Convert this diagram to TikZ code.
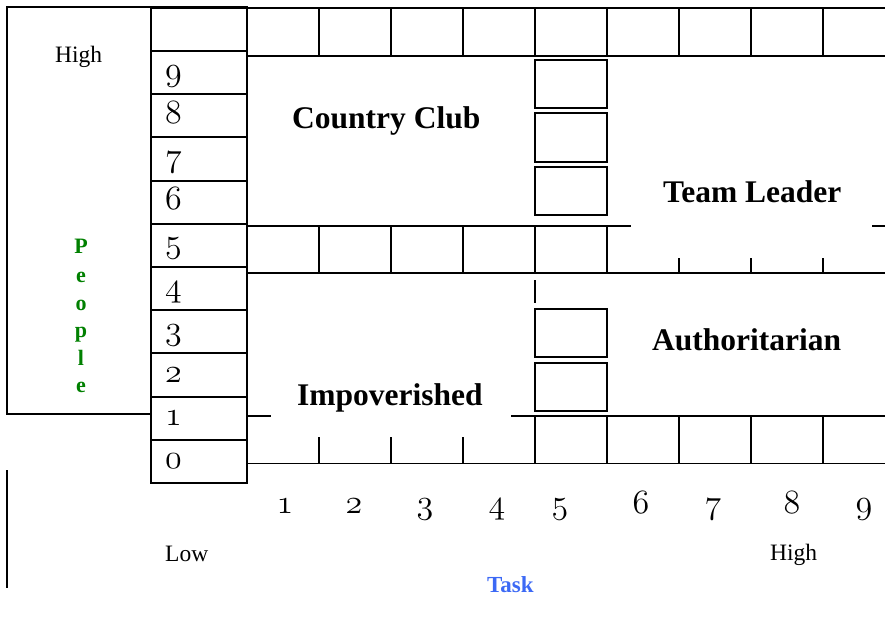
\documentclass[tikz,border=0pt]{standalone}
\usepackage{fix-cm}
\usepackage{fontspec}
\setmainfont{Liberation Serif}
\definecolor{pgreen}{RGB}{0,128,0}
\definecolor{tblue}{RGB}{60,105,245}
\tikzset{
  gline/.style={line width=1.7pt, black},
  colbox/.style={line width=2.1pt, black},
  smallbox/.style={line width=2.3pt, black},
  digit/.style={inner sep=0pt, font=\fontsize{34}{34}\usefont{OML}{cmm}{m}{it}},
  lbl/.style={inner sep=0pt, font=\fontsize{23.5}{26}\selectfont},
  zone/.style={inner sep=0pt, font=\fontsize{31.5}{34}\selectfont\bfseries},
  pl/.style={inner sep=0pt, anchor=base, text=pgreen, font=\fontsize{22}{24}\selectfont\bfseries}
}
\begin{document}
\begin{tikzpicture}[x=1pt,y=-1pt]
\useasboundingbox (0,0) rectangle (885,626);
% left big rectangle
\draw[gline] (151,414) -- (7,414) -- (7,7) -- (151,7);
% column: top empty cell and digit cells
\draw[colbox] (151,7.5) rectangle (247,51);
\foreach \i in {0,...,9}{
  \pgfmathsetmacro{\yt}{51+(9-\i)*43.2}
  \draw[colbox] (151,\yt) rectangle (247,\yt+43.2);
  \node[digit, anchor=base west] (c\i) at (165,\yt+29) {\i};
}
% top row
\draw[gline] (247,8) -- (885,8);
\draw[gline] (247,56) -- (885,56);
\foreach \x in {319,391,463,535,607,679,751,823}{
  \draw[gline] (\x,8) -- (\x,56);
}
% middle row
\draw[gline] (247,226) -- (631,226);
\draw[gline] (872,226) -- (885,226);
\draw[gline] (247,273) -- (885,273);
\foreach \x in {319,391,463,535,607}{
  \draw[gline] (\x,226) -- (\x,273);
}
\foreach \x in {679,751,823}{
  \draw[gline] (\x,258) -- (\x,273);
}
% column-5 boxes upper half
\draw[smallbox] (535,60) rectangle (607,108);
\draw[smallbox] (535,113) rectangle (607,162);
\draw[smallbox] (535,167) rectangle (607,215);
% lower half
\draw[gline] (535,280) -- (535,303);
\draw[smallbox] (535,309) rectangle (607,357);
\draw[smallbox] (535,363) rectangle (607,411);
% bottom row
\draw[gline] (247,416) -- (271,416);
\draw[gline] (511,416) -- (885,416);
\draw[gline] (247,463.5) -- (885,463.5);
\foreach \x in {535,607,679,751,823}{
  \draw[gline] (\x,416) -- (\x,463.5);
}
\foreach \x in {319,391,463}{
  \draw[gline] (\x,437) -- (\x,463.5);
}
% lone vertical line
\draw[gline] (7,470) -- (7,588);
% labels
\node[lbl, anchor=base west] (hightop) at (55,63) {High};
\node[zone, anchor=base west] (cc) at (292,128) {Country Club};
\node[zone, anchor=base west] (tl) at (663,202) {Team Leader};
\node[zone, anchor=base west] (au) at (652,350) {Authoritarian};
\node[zone, anchor=base west] (im) at (297,405) {Impoverished};
\node[pl] (p1) at (81,253) {P};
\node[pl] (p2) at (81,282) {e};
\node[pl] (p3) at (81,310) {o};
\node[pl] (p4) at (81,337) {p};
\node[pl] (p5) at (81,365) {l};
\node[pl] (p6) at (81,392) {e};
\foreach \i/\x in {1/285,2/354,3/425,4/497,5/560,6/641,7/713,8/792,9/864}{
  \node[digit, anchor=base] (t\i) at (\x,513) {\i};
}
\node[lbl, anchor=base west] (low) at (165,561) {Low};
\node[lbl, anchor=base west] (highr) at (770,560) {High};
\node[lbl, anchor=base west, text=tblue, font=\fontsize{23}{26}\selectfont\bfseries] (task) at (487,592) {Task};
\end{tikzpicture}
\end{document}
